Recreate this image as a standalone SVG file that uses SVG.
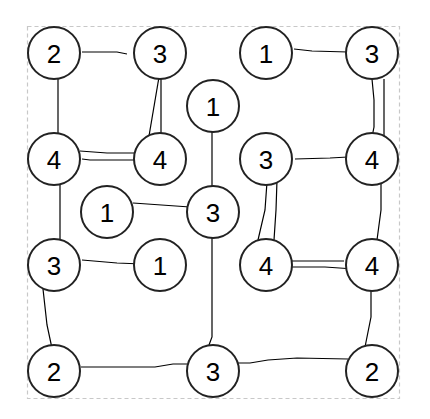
<svg xmlns="http://www.w3.org/2000/svg" width="430" height="419" viewBox="0 0 430 419">
<style>
.n circle{fill:#fff;stroke:#222;stroke-width:2}
.n text{font-family:"Liberation Sans",Arial,sans-serif;font-size:26px;text-anchor:middle;fill:#000}
.e{fill:none;stroke:#000;stroke-width:1.2}
</style>
<rect width="430" height="419" fill="#fff"/>
<rect x="27.5" y="26.5" width="372" height="372" fill="none" stroke="#c8c8c8" stroke-width="1.2" stroke-dasharray="4,3"/>
<g id="connectors" class="e">
<polyline points="82,52 117,52 127,54"/>
<polyline points="58,76 58,133"/>
<polyline points="159,77 149,136"/>
<polyline points="161,77 161,134"/>
<polyline points="80,151 107,153 135,153"/>
<polyline points="82,159 90,160 143,160"/>
<polyline points="212,125 212,187"/>
<polyline points="133,203 190,207"/>
<polyline points="60,183 60,241"/>
<polyline points="82,260 117,263 142,264"/>
<polyline points="43,289 47,325 53,353"/>
<polyline points="81,367 155,367 173,364 187,364"/>
<polyline points="212,238 212,337 209,345"/>
<polyline points="294,49 312,51 348,52"/>
<polyline points="372,79 374,100 374,127 372,137"/>
<polyline points="384,79 384,136"/>
<polyline points="295,159 330,158 348,157"/>
<polyline points="267,182 265,210 258,240"/>
<polyline points="277,180 276,210 274,240"/>
<polyline points="381,182 381,210 377,240"/>
<polyline points="292,261 344,261"/>
<polyline points="292,267 325,267 354,269"/>
<polyline points="371,291 371,317 365,347"/>
<polyline points="232,363 250,363 268,360 297,358 348,359"/>
</g>
<g id="nA" class="n"><circle cx="54" cy="53" r="26"/><text x="54" y="62.5">2</text></g>
<g id="nB" class="n"><circle cx="160" cy="53" r="26"/><text x="160" y="62.5">3</text></g>
<g id="nC" class="n"><circle cx="266" cy="53" r="26"/><text x="266" y="62.5">1</text></g>
<g id="nD" class="n"><circle cx="372" cy="53" r="26"/><text x="372" y="62.5">3</text></g>
<g id="nE" class="n"><circle cx="213" cy="106" r="26"/><text x="213" y="115.5">1</text></g>
<g id="nF" class="n"><circle cx="54" cy="159" r="26"/><text x="54" y="168.5">4</text></g>
<g id="nG" class="n"><circle cx="160" cy="159" r="26"/><text x="160" y="168.5">4</text></g>
<g id="nH" class="n"><circle cx="266" cy="159" r="26"/><text x="266" y="168.5">3</text></g>
<g id="nI" class="n"><circle cx="372" cy="159" r="26"/><text x="372" y="168.5">4</text></g>
<g id="nJ" class="n"><circle cx="107" cy="212" r="26"/><text x="107" y="221.5">1</text></g>
<g id="nK" class="n"><circle cx="213" cy="212" r="26"/><text x="213" y="221.5">3</text></g>
<g id="nL" class="n"><circle cx="54" cy="265" r="26"/><text x="54" y="274.5">3</text></g>
<g id="nM" class="n"><circle cx="160" cy="265" r="26"/><text x="160" y="274.5">1</text></g>
<g id="nN" class="n"><circle cx="266" cy="265" r="26"/><text x="266" y="274.5">4</text></g>
<g id="nO" class="n"><circle cx="372" cy="265" r="26"/><text x="372" y="274.5">4</text></g>
<g id="nP" class="n"><circle cx="54" cy="371" r="26"/><text x="54" y="380.5">2</text></g>
<g id="nQ" class="n"><circle cx="213" cy="371" r="26"/><text x="213" y="380.5">3</text></g>
<g id="nR" class="n"><circle cx="372" cy="371" r="26"/><text x="372" y="380.5">2</text></g>
</svg>
